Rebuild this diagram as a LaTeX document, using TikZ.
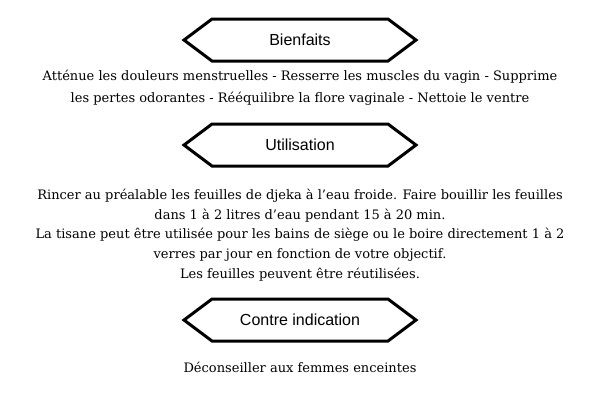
\documentclass[tikz,border=0pt]{standalone}
\usepackage{fontspec}
\setmainfont{DejaVu Serif}
\newfontfamily\headfont{Liberation Sans}
\begin{document}
\begin{tikzpicture}[x=1pt,y=-1pt,
  hexa/.style={draw=black,line width=3pt,line join=miter},
  headtxt/.style={font=\headfont\fontsize{16}{18}\selectfont},
  bodytxt/.style={font=\fontsize{13}{22}\selectfont,align=center}]
\useasboundingbox (0,0) rectangle (600,400);
\fill[white] (0,0) rectangle (600,400);
\foreach \n/\y/\t in {h1/40/Bienfaits,h2/145/Utilisation,h3/320/Contre indication}{
  \draw[hexa] (184,\y) -- (212,\y-21) -- (388,\y-21) -- (416,\y) -- (388,\y+21) -- (212,\y+21) -- cycle;
  \node[headtxt] (\n) at (300,\y) {\t};
}
\node[bodytxt] (b1) at (300,88) {Atténue les douleurs menstruelles - Resserre les muscles du vagin - Supprime\\les pertes odorantes - Rééquilibre la flore vaginale - Nettoie le ventre};
\node[bodytxt,font=\fontsize{13}{19.8}\selectfont] (b2) at (300,235) {Rincer au préalable les feuilles de djeka à l'eau froide. Faire bouillir les feuilles\\dans 1 à 2 litres d'eau pendant 15 à 20 min.\\La tisane peut être utilisée pour les bains de siège ou le boire directement 1 à 2\\verres par jour en fonction de votre objectif.\\Les feuilles peuvent être réutilisées.};
\node[bodytxt] (b3) at (300,367) {Déconseiller aux femmes enceintes};
\end{tikzpicture}
\end{document}
